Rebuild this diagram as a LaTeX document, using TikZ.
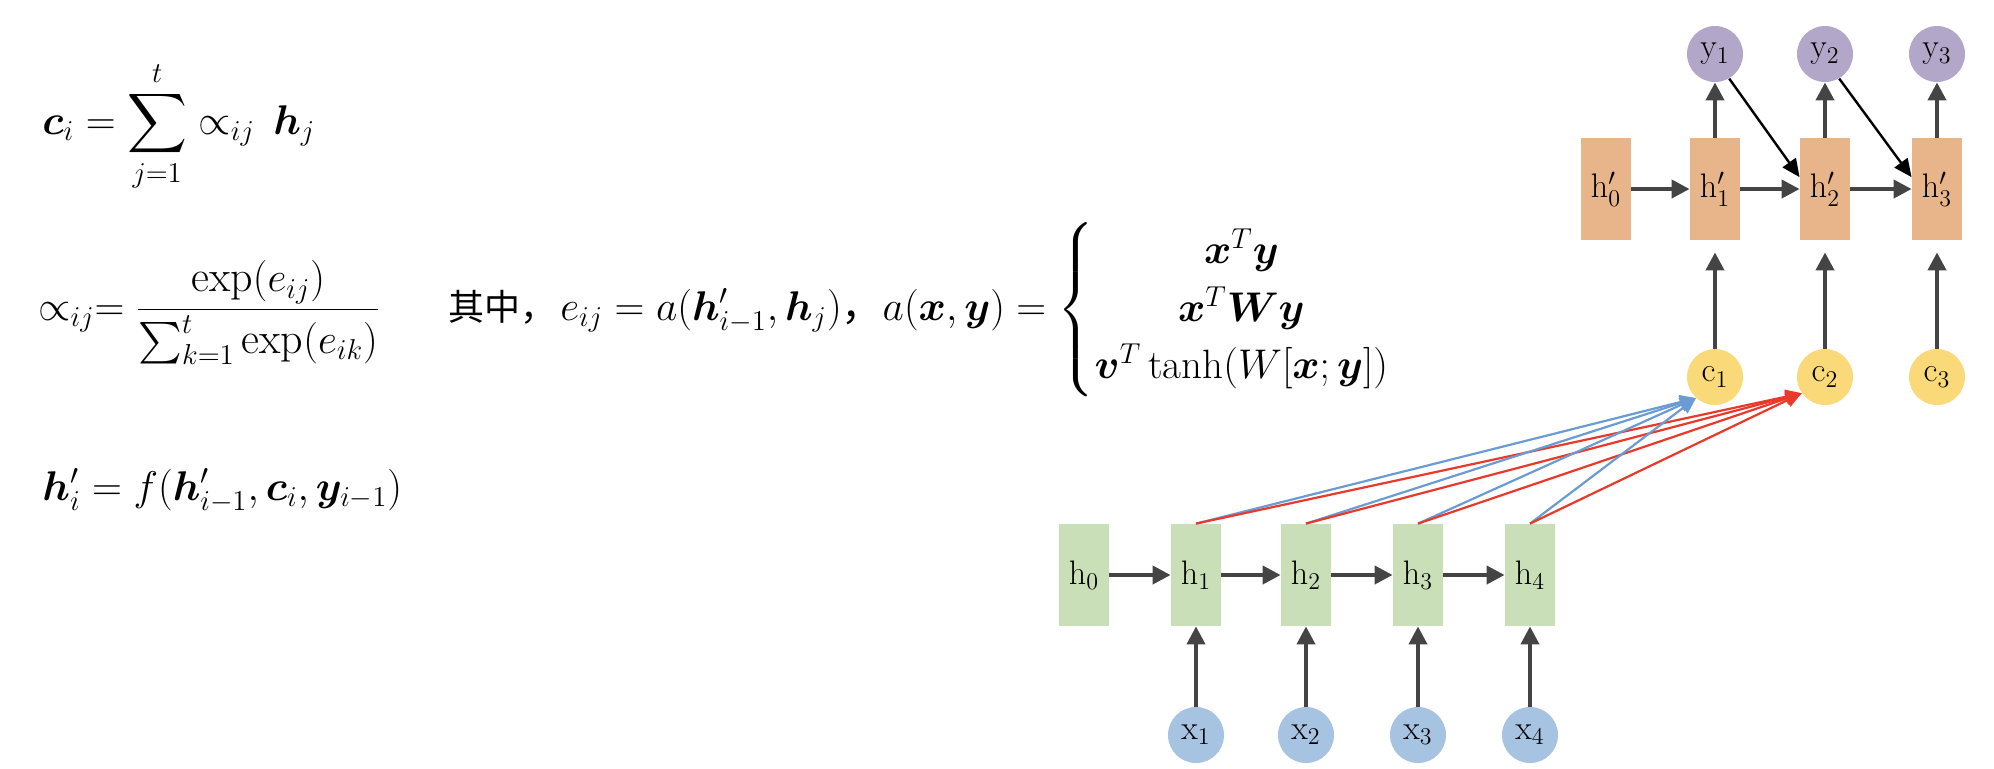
\documentclass[tikz,border=0pt]{standalone}
\usepackage{amsmath,bm}
\usepackage{fontspec}
\newfontfamily\cjk{Noto Sans CJK SC}
\usetikzlibrary{arrows.meta}
\definecolor{gbox}{HTML}{C9DFB8}
\definecolor{obox}{HTML}{E8B48A}
\definecolor{pcirc}{HTML}{B3A7C9}
\definecolor{bcirc}{HTML}{A7C3E2}
\definecolor{ycirc}{HTML}{F9D978}
\definecolor{darr}{HTML}{444444}
\definecolor{battn}{HTML}{6A9BD3}
\definecolor{rattn}{HTML}{E8392A}
\tikzset{
  hbox/.style={fill=gbox,minimum width=25pt,minimum height=51pt,inner sep=0pt,font=\fontsize{17}{20}\selectfont},
  obx/.style={hbox,fill=obox},
  circ/.style={circle,minimum size=28pt,inner sep=0pt,font=\fontsize{17}{20}\selectfont},
  arr/.style={draw=darr,line width=2pt,-{Triangle[length=9pt,width=9pt]}},
  att/.style={line width=1.1pt,-{Triangle[length=8pt,width=7pt]}},
  eq/.style={anchor=base west,inner sep=0pt,font=\fontsize{20}{24}\selectfont}
}
\begin{document}
\begin{tikzpicture}[x=0.5pt,y=-0.5pt]
\useasboundingbox (0,0) rectangle (1994,768);
% formulas
\node[eq] (f1) at (42,134) {$\bm{c}_i=\displaystyle\sum_{j=1}^{t}\propto_{ij}\,\bm{h}_j$};
\node[eq,font=\fontsize{22}{26}\selectfont] (f2) at (38,320) {$\propto_{ij}=\dfrac{\exp(e_{ij})}{\sum_{k=1}^{t}\exp(e_{ik})}$};
\node[eq,font=\fontsize{18}{22}\selectfont] (zh) at (448,320) {\cjk 其中，};
\node[eq,font=\fontsize{20.5}{24}\selectfont] (f2c) at (560,320) {$e_{ij}=a(\bm{h}'_{i-1},\bm{h}_j)${\cjk ，}$a(\bm{x},\bm{y})=\renewcommand{\arraystretch}{1.2}\begin{cases}\hfil\bm{x}^{T}\bm{y}\\ \hfil\bm{x}^{T}\bm{W}\bm{y}\\ \bm{v}^{T}\tanh(W[\bm{x};\bm{y}])\end{cases}$};
\node[eq] (f3) at (42,500) {$\bm{h}'_i=f(\bm{h}'_{i-1},\bm{c}_i,\bm{y}_{i-1})$};
% encoder
\foreach \n/\x in {0/1084,1/1196,2/1306,3/1418,4/1530}{
  \node[hbox] (h\n) at (\x,575) {$\mathrm{h}_{\n}$};}
\foreach \n/\x in {1/1196,2/1306,3/1418,4/1530}{
  \node[circ,fill=bcirc] (x\n) at (\x,735) {$\mathrm{x}_{\n}$};
  \draw[arr] (x\n) -- (h\n);}
\draw[arr] (h0) -- (h1);
\draw[arr] (h1) -- (h2);
\draw[arr] (h2) -- (h3);
\draw[arr] (h3) -- (h4);
% decoder
\foreach \n/\x in {0/1606,1/1715,2/1825,3/1937}{
  \node[obx] (d\n) at (\x,189) {$\mathrm{h}'_{\n}$};}
\foreach \n/\x in {1/1715,2/1825,3/1937}{
  \node[circ,fill=pcirc] (y\n) at (\x,54) {$\mathrm{y}_{\n}$};
  \node[circ,fill=ycirc] (c\n) at (\x,377) {$\mathrm{c}_{\n}$};
  \draw[arr] (d\n) -- (y\n);
  \draw[arr] (c\n) -- ([yshift=-6pt]d\n.south);}
\draw[arr] (d0) -- (d1);
\draw[arr] (d1) -- (d2);
\draw[arr] (d2) -- (d3);
\draw[line width=1.2pt,-{Triangle[length=9pt,width=8pt]}] (y1.-60) -- (d2.155);
\draw[line width=1.2pt,-{Triangle[length=9pt,width=8pt]}] (y2.-60) -- (d3.155);
% attention
\foreach \n in {1,2,3,4}{
  \draw[att,draw=battn,fill=battn] (h\n.north) -- (c1.228);
  \draw[att,draw=rattn,fill=rattn] (h\n.north) -- (c2.215);}
\end{tikzpicture}
\end{document}
